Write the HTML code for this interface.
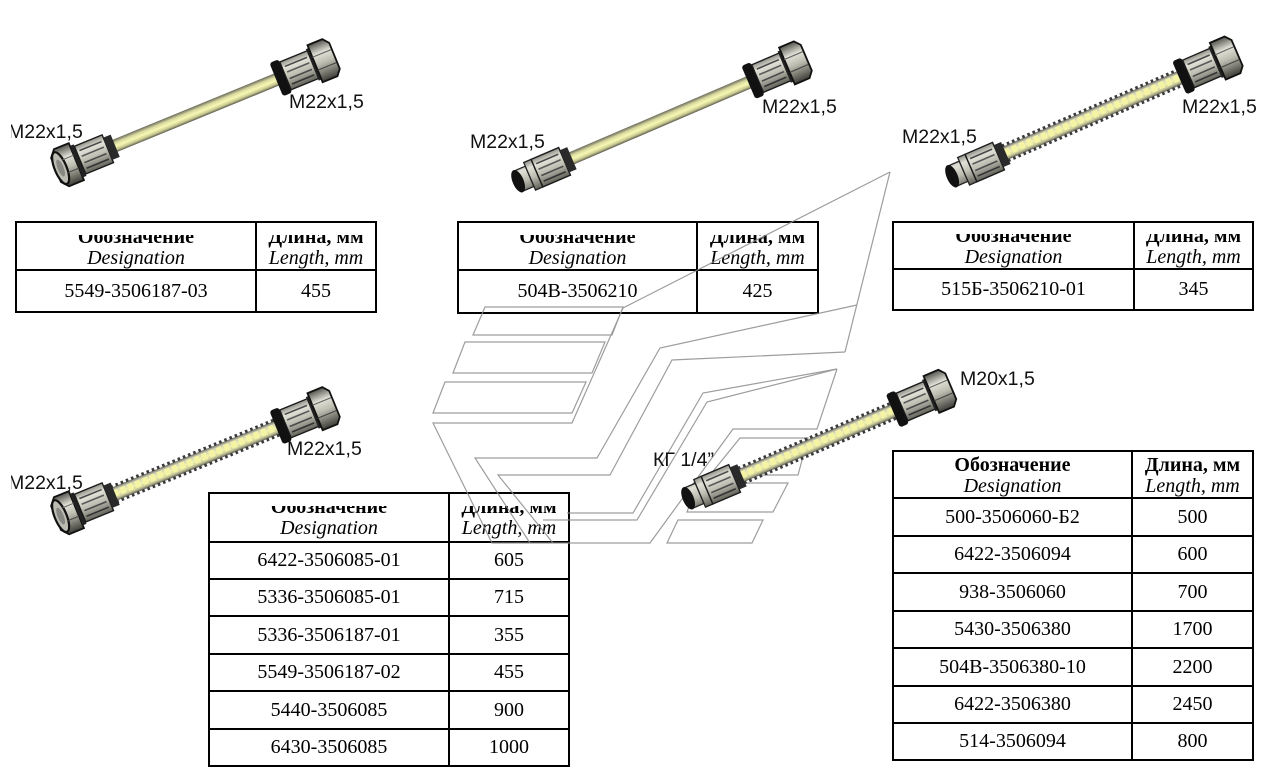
<!DOCTYPE html>
<html><head><meta charset="utf-8">
<style>
html,body{margin:0;padding:0;background:#fff;}
#p{position:relative;width:1282px;height:775px;overflow:hidden;background:#fff;}
.h{position:absolute;height:2px;background:#000;}
.v{position:absolute;width:2px;background:#000;}
.t{position:absolute;text-align:center;font-size:20px;font-family:"Liberation Serif","Noto Serif CJK SC",serif;white-space:nowrap;color:#000;}
.hd{line-height:21px;}
.w{position:absolute;background:#fff;}
svg{position:absolute;left:0;top:0;}
</style></head><body><div id="p">

<!-- Table 1 -->
<div class="t hd" style="left:17px;width:238px;top:227px"><b>Обозначение</b><br><i>Designation</i></div>
<div class="t hd" style="left:257px;width:118px;top:227px"><b>Длина, мм</b><br><i>Length, mm</i></div>
<div class="w" style="left:17px;top:223px;width:238px;height:12px"></div>
<div class="w" style="left:257px;top:223px;width:118px;height:12px"></div>
<div class="h" style="left:15px;top:221px;width:362px"></div>
<div class="h" style="left:15px;top:269px;width:362px"></div>
<div class="h" style="left:15px;top:311px;width:362px"></div>
<div class="v" style="left:15px;top:221px;height:92px"></div>
<div class="v" style="left:255px;top:221px;height:92px"></div>
<div class="v" style="left:375px;top:221px;height:92px"></div>
<div class="t" style="left:17px;width:238px;top:271px;height:40px;line-height:40px">5549-3506187-03</div>
<div class="t" style="left:257px;width:118px;top:271px;height:40px;line-height:40px">455</div>

<!-- Table 2 -->
<div class="t hd" style="left:459px;width:237px;top:227px"><b>Обозначение</b><br><i>Designation</i></div>
<div class="t hd" style="left:698px;width:119px;top:227px"><b>Длина, мм</b><br><i>Length, mm</i></div>
<div class="w" style="left:459px;top:223px;width:237px;height:12px"></div>
<div class="w" style="left:698px;top:223px;width:119px;height:12px"></div>
<div class="h" style="left:457px;top:221px;width:362px"></div>
<div class="h" style="left:457px;top:269px;width:362px"></div>
<div class="h" style="left:457px;top:312px;width:362px"></div>
<div class="v" style="left:457px;top:221px;height:93px"></div>
<div class="v" style="left:696px;top:221px;height:93px"></div>
<div class="v" style="left:817px;top:221px;height:93px"></div>
<div class="t" style="left:459px;width:237px;top:271px;height:41px;line-height:41px">504B-3506210</div>
<div class="t" style="left:698px;width:119px;top:271px;height:41px;line-height:41px">425</div>

<!-- Table 3 -->
<div class="t hd" style="left:894px;width:239px;top:226px"><b>Обозначение</b><br><i>Designation</i></div>
<div class="t hd" style="left:1135px;width:117px;top:226px"><b>Длина, мм</b><br><i>Length, mm</i></div>
<div class="w" style="left:894px;top:223px;width:239px;height:11px"></div>
<div class="w" style="left:1135px;top:223px;width:117px;height:11px"></div>
<div class="h" style="left:892px;top:221px;width:362px"></div>
<div class="h" style="left:892px;top:268px;width:362px"></div>
<div class="h" style="left:892px;top:309px;width:362px"></div>
<div class="v" style="left:892px;top:221px;height:90px"></div>
<div class="v" style="left:1133px;top:221px;height:90px"></div>
<div class="v" style="left:1252px;top:221px;height:90px"></div>
<div class="t" style="left:894px;width:239px;top:270px;height:39px;line-height:39px">515Б-3506210-01</div>
<div class="t" style="left:1135px;width:117px;top:270px;height:39px;line-height:39px">345</div>

<!-- Table 4 -->
<div class="t hd" style="left:210px;width:238px;top:497px"><b>Обозначение</b><br><i>Designation</i></div>
<div class="t hd" style="left:450px;width:118px;top:497px"><b>Длина, мм</b><br><i>Length, mm</i></div>
<div class="w" style="left:210px;top:494px;width:238px;height:12px"></div>
<div class="w" style="left:450px;top:494px;width:118px;height:12px"></div>
<div class="h" style="left:208px;top:492px;width:362px"></div>
<div class="h" style="left:208px;top:541px;width:362px"></div>
<div class="h" style="left:208px;top:578px;width:362px"></div>
<div class="h" style="left:208px;top:615px;width:362px"></div>
<div class="h" style="left:208px;top:653px;width:362px"></div>
<div class="h" style="left:208px;top:690px;width:362px"></div>
<div class="h" style="left:208px;top:728px;width:362px"></div>
<div class="h" style="left:208px;top:765px;width:362px"></div>
<div class="v" style="left:208px;top:492px;height:275px"></div>
<div class="v" style="left:448px;top:492px;height:275px"></div>
<div class="v" style="left:568px;top:492px;height:275px"></div>
<div class="t" style="left:210px;width:238px;top:543px;height:35px;line-height:35px">6422-3506085-01</div>
<div class="t" style="left:450px;width:118px;top:543px;height:35px;line-height:35px">605</div>
<div class="t" style="left:210px;width:238px;top:580px;height:35px;line-height:35px">5336-3506085-01</div>
<div class="t" style="left:450px;width:118px;top:580px;height:35px;line-height:35px">715</div>
<div class="t" style="left:210px;width:238px;top:617px;height:36px;line-height:36px">5336-3506187-01</div>
<div class="t" style="left:450px;width:118px;top:617px;height:36px;line-height:36px">355</div>
<div class="t" style="left:210px;width:238px;top:655px;height:35px;line-height:35px">5549-3506187-02</div>
<div class="t" style="left:450px;width:118px;top:655px;height:35px;line-height:35px">455</div>
<div class="t" style="left:210px;width:238px;top:692px;height:36px;line-height:36px">5440-3506085</div>
<div class="t" style="left:450px;width:118px;top:692px;height:36px;line-height:36px">900</div>
<div class="t" style="left:210px;width:238px;top:730px;height:35px;line-height:35px">6430-3506085</div>
<div class="t" style="left:450px;width:118px;top:730px;height:35px;line-height:35px">1000</div>

<!-- Table 5 -->
<div class="h" style="left:892px;top:450px;width:362px"></div>
<div class="h" style="left:892px;top:497px;width:362px"></div>
<div class="h" style="left:892px;top:535px;width:362px"></div>
<div class="h" style="left:892px;top:572px;width:362px"></div>
<div class="h" style="left:892px;top:610px;width:362px"></div>
<div class="h" style="left:892px;top:647px;width:362px"></div>
<div class="h" style="left:892px;top:685px;width:362px"></div>
<div class="h" style="left:892px;top:722px;width:362px"></div>
<div class="h" style="left:892px;top:759px;width:362px"></div>
<div class="v" style="left:892px;top:450px;height:311px"></div>
<div class="v" style="left:1131px;top:450px;height:311px"></div>
<div class="v" style="left:1252px;top:450px;height:311px"></div>
<div class="t hd" style="left:894px;width:237px;top:455px"><b>Обозначение</b><br><i>Designation</i></div>
<div class="t hd" style="left:1133px;width:119px;top:455px"><b>Длина, мм</b><br><i>Length, mm</i></div>
<div class="t" style="left:894px;width:237px;top:499px;height:36px;line-height:36px">500-3506060-Б2</div>
<div class="t" style="left:1133px;width:119px;top:499px;height:36px;line-height:36px">500</div>
<div class="t" style="left:894px;width:237px;top:537px;height:35px;line-height:35px">6422-3506094</div>
<div class="t" style="left:1133px;width:119px;top:537px;height:35px;line-height:35px">600</div>
<div class="t" style="left:894px;width:237px;top:574px;height:36px;line-height:36px">938-3506060</div>
<div class="t" style="left:1133px;width:119px;top:574px;height:36px;line-height:36px">700</div>
<div class="t" style="left:894px;width:237px;top:612px;height:35px;line-height:35px">5430-3506380</div>
<div class="t" style="left:1133px;width:119px;top:612px;height:35px;line-height:35px">1700</div>
<div class="t" style="left:894px;width:237px;top:649px;height:36px;line-height:36px">504B-3506380-10</div>
<div class="t" style="left:1133px;width:119px;top:649px;height:36px;line-height:36px">2200</div>
<div class="t" style="left:894px;width:237px;top:687px;height:35px;line-height:35px">6422-3506380</div>
<div class="t" style="left:1133px;width:119px;top:687px;height:35px;line-height:35px">2450</div>
<div class="t" style="left:894px;width:237px;top:724px;height:35px;line-height:35px">514-3506094</div>
<div class="t" style="left:1133px;width:119px;top:724px;height:35px;line-height:35px">800</div>

<svg width="1282" height="775" viewBox="0 0 1282 775" xmlns="http://www.w3.org/2000/svg">
<defs>
  <linearGradient id="gm" gradientUnits="userSpaceOnUse" x1="0" y1="-20" x2="0" y2="20">
    <stop offset="0" stop-color="#55554f"/>
    <stop offset="0.3" stop-color="#e2e2d8"/>
    <stop offset="0.55" stop-color="#bdbdb1"/>
    <stop offset="1" stop-color="#3e3e38"/>
  </linearGradient>
  <linearGradient id="gt" gradientUnits="userSpaceOnUse" x1="0" y1="-6.5" x2="0" y2="6.5">
    <stop offset="0" stop-color="#68685a"/>
    <stop offset="0.28" stop-color="#d8d8a0"/>
    <stop offset="0.55" stop-color="#f8f8b4"/>
    <stop offset="0.8" stop-color="#c8c890"/>
    <stop offset="1" stop-color="#58584c"/>
  </linearGradient>
  <linearGradient id="gc" gradientUnits="userSpaceOnUse" x1="0" y1="-8" x2="0" y2="8">
    <stop offset="0" stop-color="#484842"/>
    <stop offset="0.25" stop-color="#d0d0b8"/>
    <stop offset="0.5" stop-color="#f2f2b0"/>
    <stop offset="0.75" stop-color="#cbcb9c"/>
    <stop offset="1" stop-color="#3c3c3c"/>
  </linearGradient>

  <g id="collar">
    <rect x="0" y="-15" width="30" height="30" fill="url(#gm)" stroke="#1a1a1a" stroke-width="1.4"/>
    <line x1="3" y1="-9" x2="27" y2="-9" stroke="#4a4a4a" stroke-width="1.6"/>
    <line x1="3" y1="-3" x2="27" y2="-3" stroke="#5a5a5a" stroke-width="1.6"/>
    <line x1="3" y1="4" x2="27" y2="4" stroke="#4a4a4a" stroke-width="1.6"/>
    <line x1="3" y1="10" x2="27" y2="10" stroke="#333" stroke-width="1.6"/>
  </g>

  <g id="nutL">
    <path d="M0,-13 L6,-20 L22,-20 L22,20 L6,20 L0,13Z" fill="url(#gm)" stroke="#111" stroke-width="1.8"/>
    <ellipse cx="5" cy="0" rx="6" ry="17" fill="#bcbcb2" stroke="#111" stroke-width="2.2"/>
    <ellipse cx="5" cy="0" rx="3" ry="9" fill="#888882"/>
    <line x1="10" y1="-7" x2="22" y2="-7" stroke="#666" stroke-width="1"/>
    <line x1="10" y1="7" x2="22" y2="7" stroke="#444" stroke-width="1"/>
    <rect x="22" y="-17" width="4" height="34" fill="#222"/>
    <use href="#collar" x="26"/>
    <rect x="56" y="-12" width="8" height="24" fill="#2a2a2a"/>
  </g>

  <g id="maleL">
    <rect x="4" y="-11" width="13" height="22" fill="url(#gm)" stroke="#222" stroke-width="1.3"/>
    <ellipse cx="4.5" cy="0" rx="5.5" ry="12" fill="#111"/>
    <rect x="17" y="-15" width="8" height="30" fill="url(#gm)" stroke="#222" stroke-width="1.3"/>
    <use href="#collar" x="25"/>
    <rect x="55" y="-12" width="8" height="24" fill="#2a2a2a"/>
  </g>

  <g id="endR">
    <rect x="-63" y="-18" width="10" height="36" rx="3" fill="#111"/>
    <use href="#collar" x="-53"/>
    <rect x="-24" y="-17" width="4" height="34" fill="#222"/>
    <path d="M-21,-20 L-5,-20 L0,-14 L0,14 L-5,20 L-21,20Z" fill="url(#gm)" stroke="#111" stroke-width="1.8"/>
    <line x1="-21" y1="-7" x2="-1" y2="-7" stroke="#666" stroke-width="1.1"/>
    <line x1="-21" y1="7" x2="-1" y2="7" stroke="#444" stroke-width="1.1"/>
  </g>
</defs>

<!-- watermark logo -->
<g fill="none" stroke="#8c8c8c" stroke-width="1.2" opacity="0.85">
  <polygon points="473,335 485,307 623,307 612,335"/>
  <polygon points="453,373 465,342 605,342 592,373"/>
  <polygon points="433,413 445,382 586,382 572,413"/>
  <polygon points="667,543 678,520 763,520 752,543"/>
  <polygon points="687,512 698,483 788,483 773,512"/>
  <polygon points="710,475 740,438 808,438 798,475"/>
  <polyline points="890,172 623,308 572,423 433,423 492,543 650,543 733,429 817,429 837,369"/>
  <polyline points="890,172 845,352"/>
  <polyline points="857,305 660,348 597,458 475,458 530,543"/>
  <polyline points="845,352 672,360 610,475 498,475 553,543"/>
  <polyline points="837,369 703,393 633,513 567,513"/>
  <polyline points="837,369 707,402 637,520 543,520"/>
</g>

<!-- labels -->
<g font-family="'Liberation Sans', sans-serif" font-size="19.5" fill="#111">
  <text x="289" y="108">M22x1,5</text>
  <text x="8" y="138">M22x1,5</text>
  <text x="470" y="148">M22x1,5</text>
  <text x="762" y="113">M22x1,5</text>
  <text x="902" y="143">M22x1,5</text>
  <text x="1182" y="113">M22x1,5</text>
  <text x="8" y="489">M22x1,5</text>
  <text x="287" y="455">M22x1,5</text>
  <text x="653" y="466">КГ 1/4”</text>
  <text x="960" y="385">M20x1,5</text>
</g>
<rect x="0" y="110" width="11" height="40" fill="#fff"/>
<rect x="0" y="460" width="11" height="40" fill="#fff"/>

<!-- Hose 1 -->
<g transform="translate(56,170) rotate(-22.3)">
  <rect x="60" y="-6.5" width="185" height="13" fill="url(#gt)"/>
  <use href="#nutL"/>
  <use href="#endR" x="301"/>
</g>

<!-- Hose 2 -->
<g transform="translate(514,183) rotate(-23.2)">
  <rect x="60" y="-6.5" width="200" height="13" fill="url(#gt)"/>
  <use href="#maleL"/>
  <use href="#endR" x="318"/>
</g>

<!-- Hose 3 -->
<g transform="translate(948,178) rotate(-23.4)">
  <rect x="60" y="-7" width="197" height="14" fill="url(#gc)"/>
  <line x1="62" y1="-8" x2="256" y2="-8" stroke="#3a3a3a" stroke-width="3" stroke-dasharray="2.6 3"/>
  <line x1="62" y1="8" x2="256" y2="8" stroke="#3a3a3a" stroke-width="3" stroke-dasharray="2.6 3"/>
  <line x1="62" y1="-0.5" x2="256" y2="-0.5" stroke="#f4f4a4" stroke-width="7" stroke-dasharray="5.5 2.5"/>
  <use href="#maleL"/>
  <use href="#endR" x="315"/>
</g>

<!-- Hose 4 -->
<g transform="translate(56,518) rotate(-22.3)">
  <rect x="60" y="-7" width="185" height="14" fill="url(#gc)"/>
  <line x1="62" y1="-8" x2="243" y2="-8" stroke="#3a3a3a" stroke-width="3" stroke-dasharray="2.6 3"/>
  <line x1="62" y1="8" x2="243" y2="8" stroke="#3a3a3a" stroke-width="3" stroke-dasharray="2.6 3"/>
  <line x1="62" y1="-0.5" x2="243" y2="-0.5" stroke="#f4f4a4" stroke-width="7" stroke-dasharray="5.5 2.5"/>
  <use href="#nutL"/>
  <use href="#endR" x="301"/>
</g>

<!-- Hose 5 -->
<g transform="translate(684,500) rotate(-23.1)">
  <rect x="60" y="-7" width="172" height="14" fill="url(#gc)"/>
  <line x1="62" y1="-8" x2="231" y2="-8" stroke="#3a3a3a" stroke-width="3" stroke-dasharray="2.6 3"/>
  <line x1="62" y1="8" x2="231" y2="8" stroke="#3a3a3a" stroke-width="3" stroke-dasharray="2.6 3"/>
  <line x1="62" y1="-0.5" x2="231" y2="-0.5" stroke="#f4f4a4" stroke-width="7" stroke-dasharray="5.5 2.5"/>
  <use href="#maleL"/>
  <use href="#endR" x="290"/>
</g>
</svg>
</div></body></html>
